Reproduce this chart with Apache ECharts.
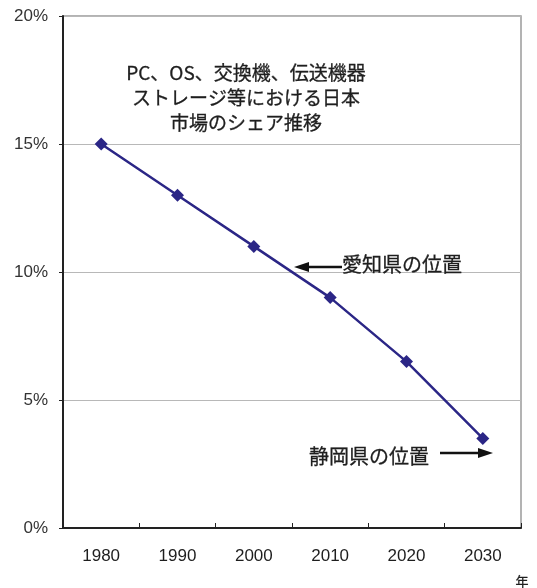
<!DOCTYPE html>
<html>
<head>
<meta charset="utf-8">
<script src="https://cdn.jsdelivr.net/npm/echarts@6/dist/echarts.min.js"></script>
<style>
  html, body { margin: 0; padding: 0; background: #fff; }
  #chart { width: 537px; height: 588px; }
</style>
</head>
<body>
<div id="chart"></div>
<script>
// Japan's share of the PC / OS / switching / transmission / storage market
const years = ['1980', '1990', '2000', '2010', '2020', '2030'];
const sharePct = [15, 13, 11, 9, 6.5, 3.5];
const yTicks = [0, 5, 10, 15, 20];

const titleLines = ['PC、OS、交換機、伝送機器', 'ストレージ等における日本', '市場のシェア推移'];
const aichiLabel = '愛知県の位置';
const shizuokaLabel = '静岡県の位置';
const unitLabel = '年';

const JP_FONT = '"Noto Sans CJK JP", "Noto Sans", sans-serif';
const NUM_FONT = '"Liberation Sans", Arial, sans-serif';
const TEXT_COLOR = '#1e1e1e';

const G = { left: 63, top: 16, width: 458, height: 512 };

const chart = echarts.init(document.getElementById('chart'), null, { renderer: 'canvas' });

function arrow(x1, x2, y) {
  // shaft from x1 to x2, head pointing at x2
  const dir = x2 > x1 ? 1 : -1;
  const headLen = 15, headHalf = 5;
  return [
    {
      type: 'line',
      shape: { x1: x1, y1: y, x2: x2 - dir * headLen + dir * 2, y2: y },
      style: { stroke: '#111', lineWidth: 2.5 },
      z: 20
    },
    {
      type: 'polygon',
      shape: { points: [[x2, y], [x2 - dir * headLen, y - headHalf], [x2 - dir * headLen, y + headHalf]] },
      style: { fill: '#111' },
      z: 20
    }
  ];
}

function label(x, y, text, size, align) {
  return {
    type: 'text',
    style: {
      x: x, y: y,
      text: text,
      align: align,
      verticalAlign: 'middle',
      font: size + 'px ' + JP_FONT,
      fill: TEXT_COLOR,
      stroke: TEXT_COLOR,
      lineWidth: 0.3
    },
    z: 20
  };
}

const option = {
  backgroundColor: '#ffffff',
  animation: false,
  grid: {
    left: G.left, top: G.top, width: G.width, height: G.height,
    show: true, borderColor: '#9a9a9a', borderWidth: 1.5, backgroundColor: 'transparent'
  },
  xAxis: {
    type: 'category',
    data: years,
    boundaryGap: true,
    axisLine: { lineStyle: { color: '#222', width: 2 } },
    axisTick: { show: true, inside: true, length: 5, lineStyle: { color: '#222', width: 1 } },
    axisLabel: { color: TEXT_COLOR, fontSize: 17, fontFamily: NUM_FONT, margin: 20 },
    splitLine: { show: false }
  },
  yAxis: {
    type: 'value',
    min: yTicks[0],
    max: yTicks[yTicks.length - 1],
    interval: 5,
    axisLine: { show: true, lineStyle: { color: '#222', width: 2 } },
    axisTick: { show: true, inside: false, length: 4, lineStyle: { color: '#222', width: 1 } },
    axisLabel: { color: '#333', fontSize: 17, fontFamily: NUM_FONT, margin: 15, formatter: '{value}%' },
    splitLine: { show: true, lineStyle: { color: '#b8b8b8', width: 1 } }
  },
  series: [{
    type: 'line',
    data: sharePct,
    symbol: 'diamond',
    symbolSize: 13,
    lineStyle: { color: '#2b2686', width: 2.5 },
    itemStyle: { color: '#2b2686' },
    z: 10
  }],
  graphic: [
    label(246, 73, titleLines[0], 19, 'center'),
    label(246, 98, titleLines[1], 19, 'center'),
    label(246, 123, titleLines[2], 19, 'center'),
    label(342, 264, aichiLabel, 20, 'left'),
    ...arrow(342, 294, 267),
    label(309, 456, shizuokaLabel, 20, 'left'),
    ...arrow(440, 493, 453),
    label(522, 581, unitLabel, 13, 'center')
  ]
};

chart.setOption(option);
</script>
</body>
</html>
